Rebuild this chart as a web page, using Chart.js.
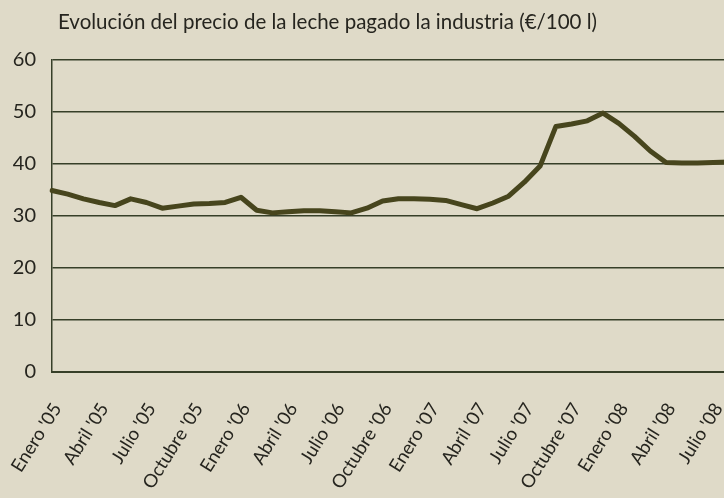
<!DOCTYPE html>
<html>
<head>
<meta charset="utf-8">
<script src="https://cdn.jsdelivr.net/npm/chart.js@4.4.1/dist/chart.umd.min.js"></script>
<style>
  html, body { margin: 0; padding: 0; background: #dfdac8; overflow: hidden; }
  #wrap { width: 735px; height: 498px; }
</style>
</head>
<body>
<div id="wrap"><canvas id="milkChart" width="735" height="498"></canvas></div>
<script>
// Chart data
var chartTitle = 'Evolución del precio de la leche pagado la industria (€/100 l)';
var monthNames = ['Enero', 'Febrero', 'Marzo', 'Abril', 'Mayo', 'Junio',
                  'Julio', 'Agosto', 'Septiembre', 'Octubre', 'Noviembre', 'Diciembre'];
var years = ['05', '06', '07', '08'];
// monthly price, Enero '05 .. Agosto '08
var prices = [
  34.9, 34.2, 33.3, 32.6, 32.0, 33.3, 32.6, 31.5, 31.9, 32.3, 32.4, 32.6,
  33.6, 31.1, 30.6, 30.8, 31.0, 31.0, 30.8, 30.6, 31.5, 32.9, 33.3, 33.3,
  33.2, 33.0, 32.2, 31.4, 32.5, 33.8, 36.5, 39.6, 47.2, 47.7, 48.3, 49.8,
  47.8, 45.3, 42.5, 40.3, 40.2, 40.2, 40.3, 40.4
];
var yMin = 0, yMax = 60, yStep = 10;

var labels = [];
for (var i = 0; i < prices.length; i++) {
    labels.push(monthNames[i % 12] + " '" + years[Math.floor(i / 12)]);
}

var gridColor = '#363f28';
var textColor = '#26251f';

// draws the heading above the plot
var titlePlugin = {
    id: 'sheetTitle',
    afterDraw: function(chart) {
        var ctx = chart.ctx;
        ctx.save();
        ctx.font = '20.5px Lato';
        ctx.fillStyle = textColor;
        ctx.textBaseline = 'alphabetic';
        ctx.fillText(chartTitle, 58, 29);
        ctx.restore();
    }
};

var ctx = document.getElementById('milkChart').getContext('2d');
new Chart(ctx, {
    type: 'line',
    data: {
        labels: labels,
        datasets: [{
            data: prices,
            borderColor: '#47451d',
            borderWidth: 5,
            borderJoinStyle: 'round',
            borderCapStyle: 'round',
            pointRadius: 0,
            tension: 0,
            fill: false
        }]
    },
    options: {
        responsive: false,
        animation: false,
        devicePixelRatio: 1,
        layout: { padding: { top: 60, right: 6, bottom: 0, left: 0 } },
        plugins: {
            legend: { display: false },
            tooltip: { enabled: false }
        },
        scales: {
            x: {
                offset: false,
                grid: { display: false, drawTicks: false },
                border: { display: true, color: gridColor, width: 2 },
                ticks: {
                    autoSkip: false,
                    minRotation: 58,
                    maxRotation: 58,
                    labelOffset: 5,
                    padding: 27,
                    color: textColor,
                    font: { family: 'Lato', size: 18.5 },
                    callback: function(value, index) {
                        return index % 3 === 0 ? this.getLabelForValue(value) : '';
                    }
                },
                afterFit: function(scale) {
                    scale.height = 126;
                    scale.paddingLeft = 0;
                    scale.paddingRight = 0;
                }
            },
            y: {
                min: yMin,
                max: yMax,
                grid: { color: gridColor, lineWidth: 1.5, drawTicks: false },
                border: { display: true, color: gridColor, width: 1.5 },
                ticks: {
                    stepSize: yStep,
                    padding: 16,
                    color: textColor,
                    font: { family: 'Lato', size: 20 }
                },
                afterFit: function(scale) {
                    scale.width = 52;
                }
            }
        }
    },
    plugins: [titlePlugin]
});
</script>
</body>
</html>
